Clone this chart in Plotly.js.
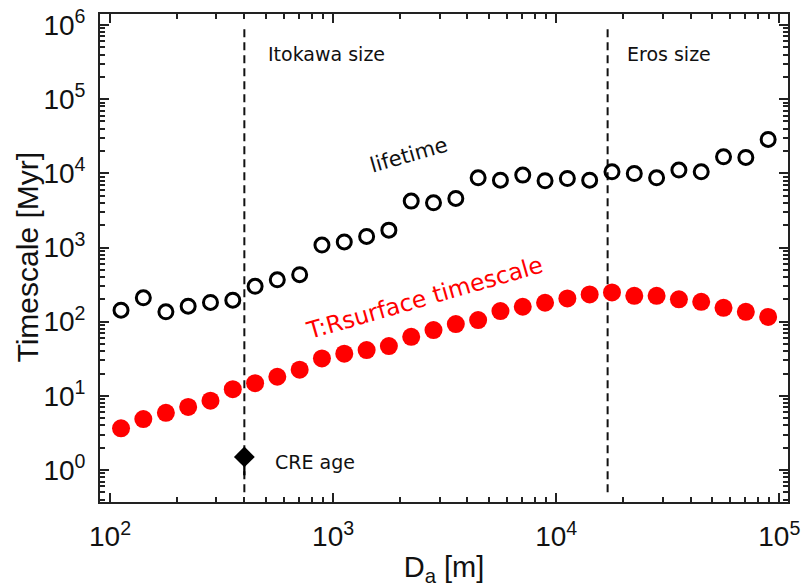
<!DOCTYPE html>
<html>
<head>
<meta charset="utf-8">
<script src="https://cdn.plot.ly/plotly-3.0.1.min.js"></script>
<style>html,body{margin:0;padding:0;background:#fff;}#chart{width:801px;height:588px;}</style>
</head>
<body>
<div id="chart"></div>
<script>
// Asteroid diameter D_a [m]
var diameters = [112, 141, 178, 224, 282, 355, 447, 562, 708, 891,
  1122, 1413, 1778, 2239, 2818, 3548, 4467, 5623, 7079, 8913,
  11220, 14125, 17783, 22387, 28184, 35481, 44668, 56234, 70795, 89125];
// lifetime [Myr] (open circles)
var lifetime = [143, 210, 136, 162, 182, 195, 300, 367, 430, 1080,
  1190, 1410, 1715, 4220, 4010, 4580, 8700, 8090, 9460, 7940,
  8520, 8090, 10470, 9950, 8700, 11050, 10470, 16700, 16400, 28600];
// T:Rsurface timescale [Myr] (red filled circles)
var surfaceTimescale = [3.65, 4.87, 5.9, 7.1, 8.6, 12.3, 14.8, 18.1, 22.5, 32,
  37, 41.4, 46.9, 62.6, 77, 92.9, 105, 139, 159, 180,
  206, 233, 248, 223, 223, 200, 185, 154, 136, 116];
// CRE age of Itokawa particles
var creSize = [400];
var creAge = [1.5];
var creErrPlus = [0.4];
var creErrMinus = [0.65];
// reference sizes (vertical dashed lines)
var itokawaSize = [400, 400];
var erosSize = [17000, 17000];
var guideSpan = [0.5, 1e6];
// low-decade tick labels written as powers of ten
var lowTickValues = ['1', '10'];
var lowTickLabels = ['10<sup>0</sup>', '10<sup>1</sup>'];

var labelAlias = {};
lowTickValues.forEach(function (v, i) { labelAlias[v] = lowTickLabels[i]; });

var axCol = '#222';
var tickFont = {family: 'Liberation Sans Narrow, Liberation Sans, Arial, sans-serif', size: 22.4, color: '#111'};
var textFont = {family: 'DejaVu Sans, sans-serif', size: 19, color: '#111'};

var traces = [
  {x: itokawaSize, y: guideSpan, mode: 'lines', line: {color: '#111', width: 2, dash: '8px,5px'}, hoverinfo: 'skip', showlegend: false},
  {x: erosSize, y: guideSpan, mode: 'lines', line: {color: '#111', width: 2, dash: '8px,5px'}, hoverinfo: 'skip', showlegend: false},
  {x: diameters, y: lifetime, mode: 'markers', name: 'lifetime',
    marker: {symbol: 'circle-open', size: 14, color: '#000', line: {width: 3, color: '#000'}}},
  {x: diameters, y: surfaceTimescale, mode: 'markers', name: 'T:Rsurface timescale',
    marker: {symbol: 'circle', size: 18, color: '#ff0000'}},
  {x: creSize, y: creAge, mode: 'markers', name: 'CRE age',
    marker: {symbol: 'diamond', size: 16, color: '#000'},
    error_y: {type: 'data', symmetric: false, array: creErrPlus, arrayminus: creErrMinus, color: '#000', thickness: 2.3, width: 0}}
];

function axisBase() {
  return {
    type: 'log', showgrid: false, zeroline: false,
    showline: true, linecolor: axCol, linewidth: 2, mirror: 'allticks',
    ticks: 'inside', ticklen: 9, tickwidth: 2, tickcolor: axCol,
    tickmode: 'linear', tick0: 0, dtick: 1,
    exponentformat: 'power', showexponent: 'all',
    labelalias: labelAlias,
    tickfont: tickFont,
    minor: {tickmode: 'linear', dtick: 'D1', ticks: 'inside', ticklen: 5, tickwidth: 2, tickcolor: axCol, showgrid: false}
  };
}

var xaxis = axisBase();
xaxis.range = [1.955, 5.039];
xaxis.ticklabelstandoff = 10;
xaxis.title = {text: 'D<sub>a</sub> [m]', font: {family: 'Liberation Sans, Arial, sans-serif', size: 29, color: '#111'}, standoff: 5};

var yaxis = axisBase();
yaxis.range = [-0.431, 6.148];
yaxis.ticklabelstandoff = 8;

var layout = {
  width: 801, height: 588,
  margin: {l: 100, r: 13, t: 14, b: 86},
  paper_bgcolor: '#fff', plot_bgcolor: '#fff',
  showlegend: false,
  xaxis: xaxis, yaxis: yaxis,
  annotations: [
    {xref: 'paper', yref: 'paper', x: -0.1054, y: 0.502, xanchor: 'center', yanchor: 'middle', text: 'Timescale [Myr]', textangle: -90, showarrow: false,
      font: {family: 'Liberation Sans, Arial, sans-serif', size: 30, color: '#111'}},
    {xref: 'paper', yref: 'paper', x: 0.2413, y: 0.9187, xanchor: 'left', yanchor: 'middle', text: 'Itokawa size', showarrow: false, font: textFont},
    {xref: 'paper', yref: 'paper', x: 0.763, y: 0.9187, xanchor: 'left', yanchor: 'middle', text: 'Eros size', showarrow: false, font: textFont},
    {xref: 'paper', yref: 'paper', x: 0.251, y: 0.082, xanchor: 'left', yanchor: 'middle', text: 'CRE age', showarrow: false, font: textFont},
    {xref: 'paper', yref: 'paper', x: 0.449, y: 0.711, xanchor: 'center', yanchor: 'middle', text: 'lifetime', textangle: -16, showarrow: false,
      font: {family: 'DejaVu Sans, sans-serif', size: 21, color: '#111'}},
    {xref: 'paper', yref: 'paper', x: 0.471, y: 0.418, xanchor: 'center', yanchor: 'middle', text: 'T:Rsurface timescale', textangle: -16, showarrow: false,
      font: {family: 'DejaVu Sans, sans-serif', size: 23.5, color: '#ff0000'}}
  ]
};

Plotly.newPlot('chart', traces, layout, {staticPlot: true, displayModeBar: false});
</script>
</body>
</html>
